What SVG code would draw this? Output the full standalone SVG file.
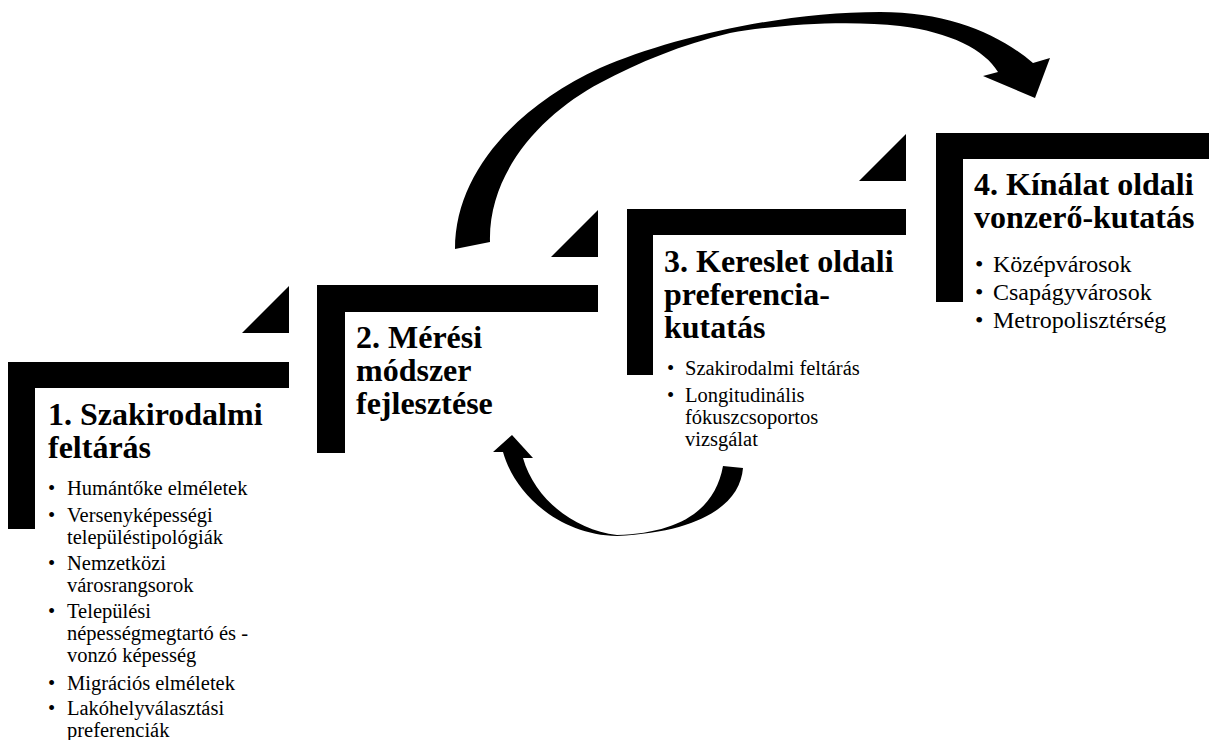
<svg xmlns="http://www.w3.org/2000/svg" width="1209" height="740" viewBox="0 0 1209 740">
<style>
.bar{fill:#000}
.title{font-family:"Liberation Serif","Times New Roman",serif;font-weight:bold;font-size:32px;fill:#000}
.item{font-family:"Liberation Serif","Times New Roman",serif;font-size:20.5px;fill:#000}
.item4{font-family:"Liberation Serif","Times New Roman",serif;font-size:24px;fill:#000}
.arrow{fill:#000}
</style>
<rect width="1209" height="740" fill="#fff"/>
<g id="node1">
<rect class="bar" x="8" y="362" width="281" height="26"/>
<rect class="bar" x="8" y="362" width="27" height="167"/>
<polygon class="bar" points="242,333 289,286 289,333"/>
<text class="title" x="48" y="425">1. Szakirodalmi</text>
<text class="title" x="48" y="458">feltárás</text>
<g class="item">
<text x="48" y="495">•</text><text x="67" y="495">Humántőke elméletek</text>
<text x="48" y="522">•</text><text x="67" y="522">Versenyképességi</text>
<text x="67" y="544">településtipológiák</text>
<text x="48" y="570">•</text><text x="67" y="570">Nemzetközi</text>
<text x="67" y="592">városrangsorok</text>
<text x="48" y="618">•</text><text x="67" y="618">Települési</text>
<text x="67" y="640">népességmegtartó és -</text>
<text x="67" y="662">vonzó képesség</text>
<text x="48" y="690">•</text><text x="67" y="690">Migrációs elméletek</text>
<text x="48" y="715">•</text><text x="67" y="715">Lakóhelyválasztási</text>
<text x="67" y="737">preferenciák</text>
</g>
</g>
<g id="node2">
<rect class="bar" x="317" y="285" width="281" height="27"/>
<rect class="bar" x="317" y="285" width="28" height="168"/>
<polygon class="bar" points="551,257 598,210 598,257"/>
<text class="title" x="356" y="348">2. Mérési</text>
<text class="title" x="356" y="381">módszer</text>
<text class="title" x="356" y="414">fejlesztése</text>
</g>
<g id="node3">
<rect class="bar" x="627" y="209" width="279" height="26"/>
<rect class="bar" x="627" y="209" width="26" height="166"/>
<polygon class="bar" points="859,181 906,134 906,181"/>
<text class="title" x="664" y="272">3. Kereslet oldali</text>
<text class="title" x="664" y="305">preferencia-</text>
<text class="title" x="664" y="338">kutatás</text>
<g class="item">
<text x="667" y="375">•</text><text x="685" y="375">Szakirodalmi feltárás</text>
<text x="667" y="402">•</text><text x="685" y="402">Longitudinális</text>
<text x="685" y="424">fókuszcsoportos</text>
<text x="685" y="446">vizsgálat</text>
</g>
</g>
<g id="node4">
<rect class="bar" x="936" y="133" width="280" height="26"/>
<rect class="bar" x="936" y="133" width="27" height="169"/>
<text class="title" x="974" y="195">4. Kínálat oldali</text>
<text class="title" x="974" y="228">vonzerő-kutatás</text>
<g class="item4">
<text x="975" y="272">•</text><text x="993" y="272">Középvárosok</text>
<text x="975" y="300">•</text><text x="993" y="300">Csapágyvárosok</text>
<text x="975" y="328">•</text><text x="993" y="328">Metropolisztérség</text>
</g>
</g>
<g id="connectors">
<path id="arrow-big" class="arrow" d="M455,249 C455,170 520,105 600,68 C670,38 780,12 880,12 C950,12 1000,35 1033,63 L1050,58 L1035,98 L983,76 L998,72 C985,50 950,32 900,26 C850,20 780,24 730,33 C680,45 640,62 600,83 C545,112 488,170 490,242 Z"/>
<path id="arrow-small" class="arrow" d="M743,468 C740,505 700,532 617,536 C560,535 515,495 503,452 L493,452 L512,435 L533,458 L523,458 C535,500 575,530 617,535 C680,533 715,510 723,466 Z"/>
</g>
</svg>
